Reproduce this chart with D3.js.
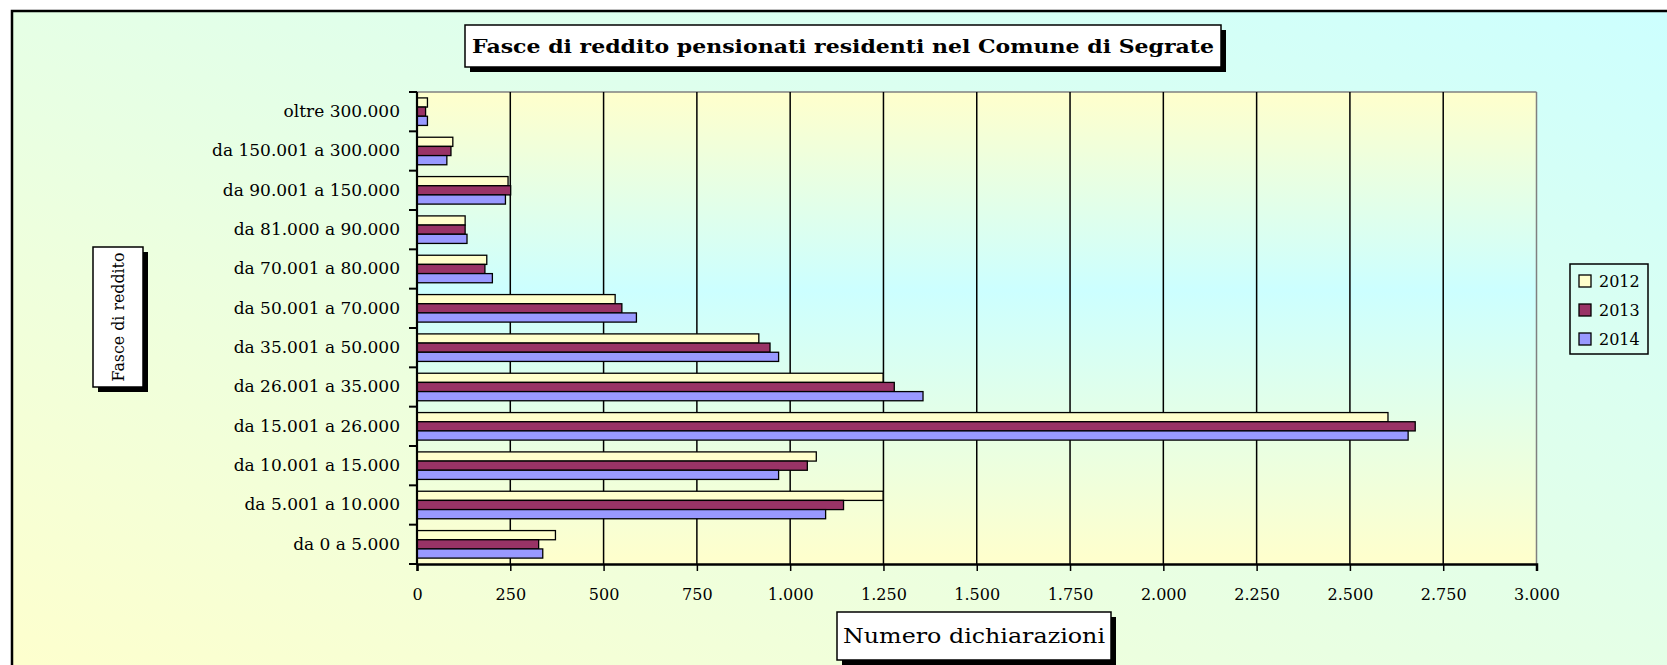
<!DOCTYPE html>
<html><head><meta charset="utf-8">
<script src="https://cdn.jsdelivr.net/npm/d3@7"></script>
<style>html,body{margin:0;padding:0;background:#fff;overflow:hidden}svg{display:block}</style>
</head><body>
<svg id="c" width="1667" height="665"></svg>
<script>
const categories = ["da 0 a 5.000","da 5.001 a 10.000","da 10.001 a 15.000","da 15.001 a 26.000","da 26.001 a 35.000","da 35.001 a 50.000","da 50.001 a 70.000","da 70.001 a 80.000","da 81.000 a 90.000","da 90.001 a 150.000","da 150.001 a 300.000","oltre 300.000"];
const years = ["2012","2013","2014"];
const values2012 = [371,1249,1070,2602,1249,916,531,187,129,244,96,28];
const values2013 = [326,1143,1046,2675,1279,946,549,182,129,251,91,23];
const values2014 = [337,1095,969,2656,1356,969,588,202,134,237,80,28];
const xTicks = [0,250,500,750,1000,1250,1500,1750,2000,2250,2500,2750,3000];
const colors = ["#FFFFCC","#993366","#9999FF"];
const series = [values2012, values2013, values2014];

const svg = d3.select("#c");
const defs = svg.append("defs");
const g1 = defs.append("linearGradient").attr("id","bg").attr("x1",0).attr("y1",1).attr("x2",1).attr("y2",0);
g1.append("stop").attr("offset",0).attr("stop-color","#FFFFCC");
g1.append("stop").attr("offset",1).attr("stop-color","#CCFFFF");
const g2 = defs.append("linearGradient").attr("id","pbg").attr("x1",0).attr("y1",0).attr("x2",0).attr("y2",1);
g2.append("stop").attr("offset",0).attr("stop-color","#FFFFCC");
g2.append("stop").attr("offset",0.42).attr("stop-color","#CCFFFF");
g2.append("stop").attr("offset",1).attr("stop-color","#FFFFCC");

// chart area
svg.append("rect").attr("x",12).attr("y",11).attr("width",1700).attr("height",700)
  .attr("fill","url(#bg)").attr("stroke","#000").attr("stroke-width",2.5);

const L = 417, R = 1536.5, T = 92, B = 564;
const x = d3.scaleLinear().domain([0,3000]).range([L,R]);
const y = d3.scaleBand().domain(categories.slice().reverse()).range([T,B]).paddingInner(0.3).paddingOuter(0.15);
const yb = d3.scaleBand().domain(categories.slice().reverse()).range([T,B]);
const ySub = d3.scaleBand().domain(years).range([0,y.bandwidth()]);

svg.append("rect").attr("x",L).attr("y",T).attr("width",R-L).attr("height",B-T).attr("fill","url(#pbg)");
// top / right border
svg.append("line").attr("x1",L).attr("x2",R).attr("y1",T).attr("y2",T).attr("stroke","#808080").attr("stroke-width",1.5);
svg.append("line").attr("x1",R).attr("x2",R).attr("y1",T).attr("y2",B).attr("stroke","#808080").attr("stroke-width",1.5);
// gridlines
svg.append("g").selectAll("line").data(xTicks.filter(d=>d>0 && d<3000)).join("line")
  .attr("x1",d=>x(d)).attr("x2",d=>x(d)).attr("y1",T).attr("y2",B)
  .attr("stroke","#000").attr("stroke-width",1.5);

// bars
const grp = svg.append("g").selectAll("g").data(categories).join("g")
  .attr("transform",d=>`translate(0,${y(d)})`);
grp.selectAll("rect").data((d,i)=>years.map((yr,k)=>({yr,k,v:series[k][i]}))).join("rect")
  .attr("x",x(0)).attr("y",d=>ySub(d.yr)).attr("width",d=>x(d.v)-x(0)).attr("height",ySub.bandwidth())
  .attr("fill",d=>colors[d.k]).attr("stroke","#000").attr("stroke-width",1.3);

// x axis
const xa = svg.append("g").attr("transform",`translate(0,${B})`)
  .call(d3.axisBottom(x).tickValues(xTicks).tickSize(7).tickPadding(18).tickFormat(d=>d3.format(",")(d).replace(/,/g,".")));
xa.select(".domain").attr("stroke","#000").attr("stroke-width",2.5);
xa.selectAll(".tick line").attr("stroke","#000").attr("stroke-width",1.5);
xa.selectAll("text").attr("font-family","DejaVu Serif").attr("font-size",16).attr("fill","#000");

// y axis
const ya = svg.append("g").attr("transform",`translate(${L},0)`)
  .call(d3.axisLeft(y).tickSize(0).tickPadding(17));
ya.select(".domain").remove();
ya.selectAll("text").attr("font-family","DejaVu Serif").attr("font-size",17).attr("fill","#000");
svg.append("line").attr("x1",L).attr("x2",L).attr("y1",T).attr("y2",B+1).attr("stroke","#000").attr("stroke-width",2.2);
const bounds = categories.map(c=>yb(c)).concat([B]);
svg.append("g").selectAll("line").data(bounds).join("line")
  .attr("x1",L-8).attr("x2",L).attr("y1",d=>d).attr("y2",d=>d).attr("stroke","#000").attr("stroke-width",2);

// boxes with shadow
function box(x0,y0,w,h){
  svg.append("rect").attr("x",x0+5).attr("y",y0+5).attr("width",w).attr("height",h).attr("fill","#000");
  svg.append("rect").attr("x",x0).attr("y",y0).attr("width",w).attr("height",h).attr("fill","#fff").attr("stroke","#000").attr("stroke-width",1.5);
}
box(465,25,756,42);
svg.append("text").attr("x",843).attr("y",53).attr("text-anchor","middle")
  .attr("font-family","DejaVu Serif").attr("font-weight","bold").attr("font-size",19)
  .attr("textLength",742).attr("lengthAdjust","spacingAndGlyphs")
  .text("Fasce di reddito pensionati residenti nel Comune di Segrate");

box(837,612,274,48);
svg.append("text").attr("x",974).attr("y",643).attr("text-anchor","middle")
  .attr("font-family","DejaVu Serif").attr("font-size",21)
  .attr("textLength",262).attr("lengthAdjust","spacingAndGlyphs")
  .text("Numero dichiarazioni");

box(93,247,50,140);
svg.append("text").attr("transform","translate(124,317) rotate(-90)").attr("text-anchor","middle")
  .attr("font-family","DejaVu Serif").attr("font-size",17)
  .attr("textLength",129).attr("lengthAdjust","spacingAndGlyphs")
  .text("Fasce di reddito");

// legend
svg.append("rect").attr("x",1570).attr("y",264).attr("width",78).attr("height",90).attr("fill","none").attr("stroke","#000").attr("stroke-width",1.5);
const leg = svg.append("g").selectAll("g").data(years).join("g")
  .attr("transform",(d,i)=>`translate(1579,${281+i*29})`);
leg.append("rect").attr("x",0).attr("y",-6).attr("width",12).attr("height",12).attr("fill",(d,i)=>colors[i]).attr("stroke","#000").attr("stroke-width",1.3);
leg.append("text").attr("x",20).attr("y",0).attr("dy","0.36em").attr("font-family","DejaVu Serif").attr("font-size",16).text(d=>d);
</script>
</body></html>
